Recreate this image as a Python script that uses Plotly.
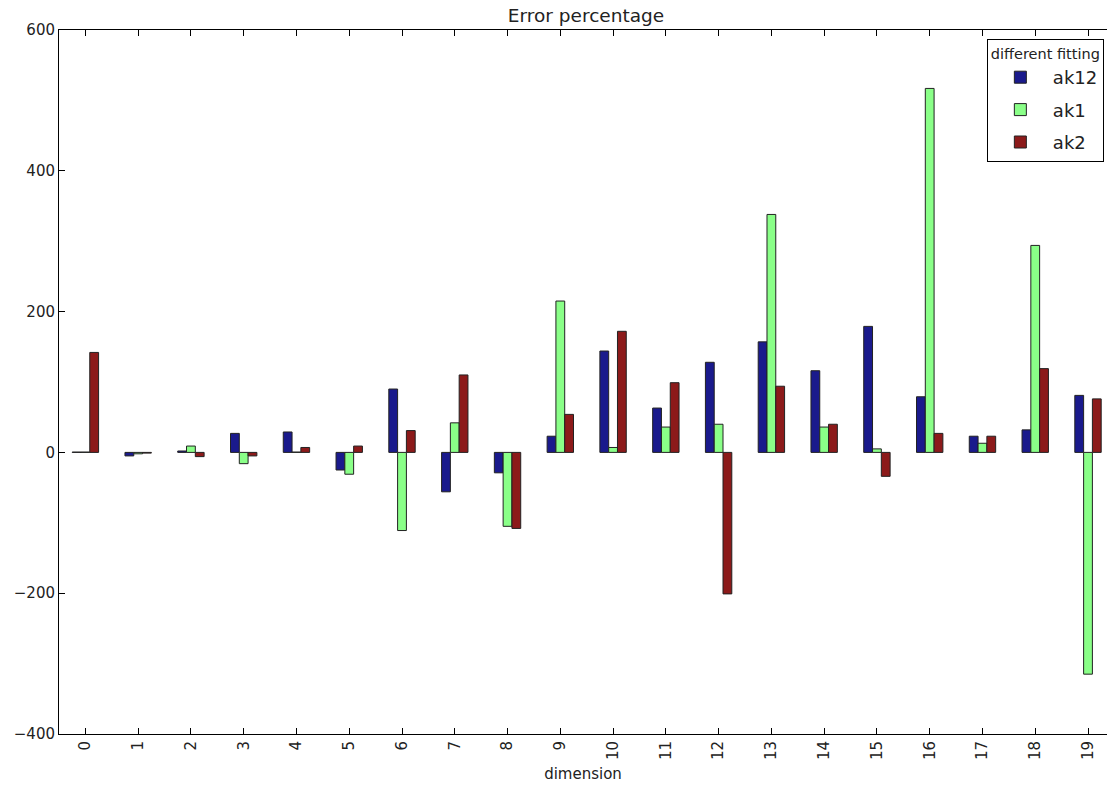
import plotly.graph_objects as go

dimensions = list(range(20))
ak12 = [0.5, -5, 2, 27, 29, -25, 90, -56, -29, 23, 144, 63, 128, 157, 116, 179, 79, 23, 32, 81]
ak1 = [0.5, -2, 9, -16, 0.5, -31, -111, 42, -105, 215, 7, 36, 40, 338, 36, 5, 517, 13, 294, -315]
ak2 = [142, -1, -6, -5, 7, 9, 31, 110, -108, 54, 172, 99, -201, 94, 40, -34, 27, 23, 119, 76]

series = [("ak12", ak12, "#1a1a8c"), ("ak1", ak1, "#8aff88"), ("ak2", ak2, "#8c1a1a")]

fig = go.Figure()
for name, vals, col in series:
    fig.add_trace(go.Bar(x=dimensions, y=vals, name=name, legendgroup=name,
                         marker=dict(color=col, line=dict(color="#222222", width=1))))

font = "DejaVu Sans, sans-serif"
fig.update_layout(
    width=1107, height=786,
    margin=dict(l=59, r=0, t=30, b=52),
    paper_bgcolor="white", plot_bgcolor="white",
    barmode="group", bargap=0.5, bargroupgap=0,
    font=dict(family=font, size=15, color="#222222"),
    title=dict(text="Error percentage", x=586 / 1107, xanchor="center",
               y=1 - 16 / 786, yanchor="middle", yref="container",
               font=dict(size=18.5, family=font, color="#222222")),
    showlegend=True,
    legend=dict(title=dict(text="different fitting", font=dict(size=14.5), side="top center"),
                x=0.997, xanchor="right", y=0.987, yanchor="top",
                bordercolor="black", borderwidth=1, bgcolor="white",
                font=dict(size=18), itemwidth=55, tracegroupgap=6),
)
fig.update_xaxes(range=[-0.5, 19.36], tickmode="array", tickvals=dimensions,
                 ticktext=[str(d) for d in dimensions], tickangle=-90,
                 ticks="inside", ticklen=6, tickcolor="black",
                 showline=True, linecolor="black", linewidth=1, mirror="ticks",
                 showgrid=False, zeroline=False,
                 title=dict(text="dimension", font=dict(size=15), standoff=9))
fig.update_yaxes(range=[-400, 600], tickvals=[-400, -200, 0, 200, 400, 600],
                 ticks="inside", ticklen=6, tickcolor="black",
                 showline=True, linecolor="black", linewidth=1,
                 showgrid=False, zeroline=False)

fig.write_html("out.html")
